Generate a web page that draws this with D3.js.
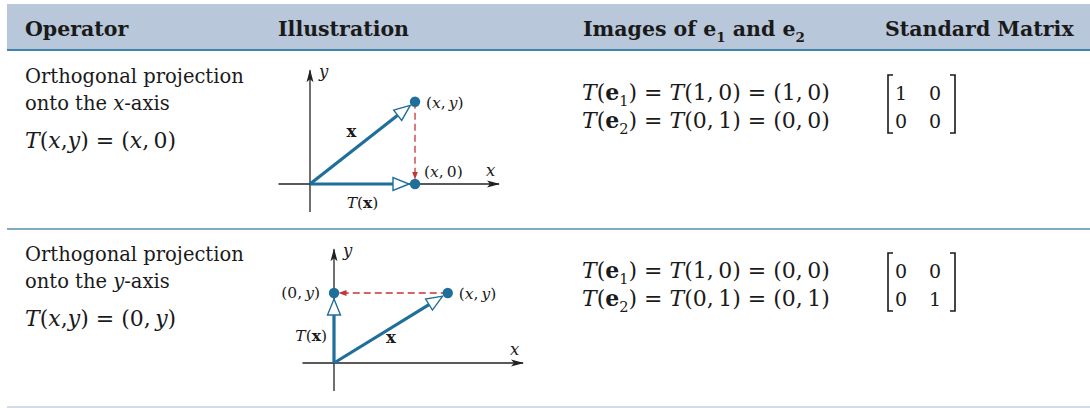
<!DOCTYPE html>
<html>
<head>
<meta charset="utf-8">
<script src="https://cdn.jsdelivr.net/npm/d3@7"></script>
<style>
  body { margin: 0; background: #fff; }
  text { font-family: "DejaVu Serif", serif; fill: #1a1a1a; }
</style>
</head>
<body>
<script>
const width = 1090;
const height = 408;

// table content  (style flags: i = italic, b = bold, s = subscript)
const headers = [
  [["Operator", "b"]],
  [["Illustration", "b"]],
  [["Images of ", "b"], ["e", "b"], ["1", "bs"], [" and ", "b"], ["e", "b"], ["2", "bs"]],
  [["Standard Matrix", "b"]]
];
const operatorLines = [
  [[["Orthogonal projection", ""]], [["onto the ", ""], ["x", "i"], ["-axis", ""]]],
  [[["Orthogonal projection", ""]], [["onto the ", ""], ["y", "i"], ["-axis", ""]]]
];
const operatorFormulas = [
  [["T", "i"], ["(", ""], ["x", "i"], [",", ""], ["y", "i"], [") = (", ""], ["x", "i"], [",\u20090)", ""]],
  [["T", "i"], ["(", ""], ["x", "i"], [",", ""], ["y", "i"], [") = (0,\u2009", ""], ["y", "i"], [")", ""]]
];
const imageValues = [
  [["1,\u20090", "1,\u20090"], ["0,\u20091", "0,\u20090"]],
  [["1,\u20090", "0,\u20090"], ["0,\u20091", "0,\u20091"]]
];
const matrices = [
  [[1, 0], [0, 0]],
  [[0, 0], [0, 1]]
];

// illustration vectors (math units)
const vectors = [[3, 2.35], [3.25, 2]];
const projections = [[3, 0], [0, 2]];
const axisX = [-0.9, 5.4];
const axisY = [-0.8, 3.25];

const blue = "#1f6f9a";
const red = "#c0363c";

const svg = d3.select("body").append("svg")
  .attr("width", width).attr("height", height);

const defs = svg.append("defs");
defs.append("marker").attr("id", "axisHead")
  .attr("viewBox", "0 0 13 8").attr("refX", 12).attr("refY", 4)
  .attr("markerWidth", 13).attr("markerHeight", 8)
  .attr("markerUnits", "userSpaceOnUse").attr("orient", "auto")
  .append("path").attr("d", "M0,0.5 L13,4 L0,7.5 L3,4 Z").attr("fill", "#222");
defs.append("marker").attr("id", "redHead")
  .attr("viewBox", "0 0 8 8").attr("refX", 7.5).attr("refY", 4)
  .attr("markerWidth", 8).attr("markerHeight", 8)
  .attr("markerUnits", "userSpaceOnUse").attr("orient", "auto")
  .append("path").attr("d", "M0,1 L8,4 L0,7 Z").attr("fill", red);

function rich(g, segs, x, y, size, anchor) {
  const t = g.append("text").attr("x", x).attr("y", y).attr("font-size", size)
    .attr("text-anchor", anchor || "start");
  let shift = 0;
  segs.forEach(([s, st]) => {
    const ts = t.append("tspan").text(s);
    if (st.includes("i")) ts.attr("font-style", "italic");
    if (st.includes("b")) ts.attr("font-weight", "bold");
    const target = st.includes("s") ? size * 0.28 : 0;
    if (target !== shift) { ts.attr("dy", target - shift); shift = target; }
    if (st.includes("s")) ts.attr("font-size", size * 0.66);
  });
  return t;
}

// header band
svg.append("rect").attr("x", 7).attr("y", 4).attr("width", width - 7).attr("height", 46)
  .attr("fill", "#b8c7d9");
svg.append("line").attr("x1", 7).attr("x2", width).attr("y1", 50).attr("y2", 50)
  .attr("stroke", "#3f84ad").attr("stroke-width", 2);

const colX = [25, 278, 583, 885];
headers.forEach((h, i) => rich(svg, h, colX[i], 36, 20.5));

// row separators
const rowTop = [51, 229];
svg.append("line").attr("x1", 7).attr("x2", width).attr("y1", 229).attr("y2", 229)
  .attr("stroke", "#5890b3").attr("stroke-width", 1.5);
svg.append("line").attr("x1", 7).attr("x2", width).attr("y1", 407).attr("y2", 407)
  .attr("stroke", "#a9b8cb").attr("stroke-width", 1);

const origins = [[310, 184], [334, 363]];
const unit = 35;

function openArrow(g, p0, p1) {
  const dx = p1[0] - p0[0], dy = p1[1] - p0[1];
  const len = Math.hypot(dx, dy), ux = dx / len, uy = dy / len;
  const tip = [p1[0] - ux * 6, p1[1] - uy * 6];
  const L = 16, hw = 6.5;
  const base = [tip[0] - ux * L, tip[1] - uy * L];
  g.append("line").attr("x1", p0[0]).attr("y1", p0[1])
    .attr("x2", base[0]).attr("y2", base[1])
    .attr("stroke", blue).attr("stroke-width", 3.2);
  g.append("path")
    .attr("d", d3.line()([
      tip,
      [base[0] - uy * hw, base[1] + ux * hw],
      [base[0] + uy * hw, base[1] - ux * hw]
    ]) + "Z")
    .attr("fill", "#fff").attr("stroke", blue).attr("stroke-width", 1.4)
    .attr("stroke-linejoin", "miter");
}

vectors.forEach((v, r) => {
  const [ox, oy] = origins[r];
  const x = d3.scaleLinear().domain([0, 1]).range([ox, ox + unit]);
  const y = d3.scaleLinear().domain([0, 1]).range([oy, oy - unit]);
  const g = svg.append("g");

  // axes
  g.append("line").attr("x1", x(axisX[0])).attr("x2", x(axisX[1]))
    .attr("y1", y(0)).attr("y2", y(0))
    .attr("stroke", "#222").attr("stroke-width", 1.3).attr("marker-end", "url(#axisHead)");
  g.append("line").attr("x1", x(0)).attr("x2", x(0))
    .attr("y1", y(axisY[0])).attr("y2", y(axisY[1]))
    .attr("stroke", "#222").attr("stroke-width", 1.3).attr("marker-end", "url(#axisHead)");

  const p = projections[r];
  const P = [x(v[0]), y(v[1])];
  const Q = [x(p[0]), y(p[1])];
  const O = [x(0), y(0)];

  // dashed projection line
  const dx = Q[0] - P[0], dy = Q[1] - P[1];
  const len = Math.hypot(dx, dy);
  g.append("line").attr("x1", P[0]).attr("y1", P[1])
    .attr("x2", Q[0] - dx / len * 5).attr("y2", Q[1] - dy / len * 5)
    .attr("stroke", red).attr("stroke-width", 1.3).attr("stroke-dasharray", "7,4")
    .attr("marker-end", "url(#redHead)");

  openArrow(g, O, P);
  openArrow(g, O, Q);

  g.selectAll("circle.pt").data([P, Q]).join("circle")
    .attr("cx", d => d[0]).attr("cy", d => d[1]).attr("r", 5.2).attr("fill", blue);

  const s = 15.5;
  rich(g, [["y", "i"]], x(0) + 9, y(axisY[1]) + 7, s + 1);
  rich(g, [["x", "i"]], x(axisX[1]) - 13, y(0) - 8, s + 1);
  rich(g, [["(", ""], ["x", "i"], [",\u2009", ""], ["y", "i"], [")", ""]], P[0] + 11, P[1] + 6, s);
  rich(g, [["x", "b"]], (O[0] + P[0]) / 2 + (r === 0 ? -11 : 0), (O[1] + P[1]) / 2 + (r === 0 ? -6 : 15), s + 1, "middle");
  if (r === 0) {
    rich(g, [["(", ""], ["x", "i"], [",\u20090)", ""]], Q[0] + 9, Q[1] - 7, s);
    rich(g, [["T", "i"], ["(", ""], ["x", "b"], [")", ""]], (O[0] + Q[0]) / 2, Q[1] + 24, s, "middle");
  } else {
    rich(g, [["(0,\u2009", ""], ["y", "i"], [")", ""]], Q[0] - 14, Q[1] + 5, s, "end");
    rich(g, [["T", "i"], ["(", ""], ["x", "b"], [")", ""]], O[0] - 7, (O[1] + Q[1]) / 2 + 13, s, "end");
  }
});

// operator column
operatorLines.forEach((lines, r) => {
  const base = rowTop[r] + 32;
  lines.forEach((l, k) => rich(svg, l, 25, base + k * 27, 19.5));
  rich(svg, operatorFormulas[r], 25, base + 65, 22);
});

// images column
imageValues.forEach((rows, r) => {
  const base = rowTop[r] + 49;
  rows.forEach(([arg, res], k) => {
    rich(svg, [["T", "i"], ["(", ""], ["e", "b"], [String(k + 1), "s"],
      [") = ", ""], ["T", "i"], ["(" + arg + ") = (" + res + ")", ""]],
      582, base + k * 28, 22);
  });
});

// matrix column
matrices.forEach((m, r) => {
  const base = rowTop[r] + 49;
  const g = svg.append("g");
  const cx = d3.scaleBand().domain([0, 1]).range([884, 952]);
  m.forEach((row, i) => row.forEach((val, j) => {
    g.append("text").attr("x", cx(j) + cx.bandwidth() / 2).attr("y", base + i * 28)
      .attr("font-size", 19).attr("text-anchor", "middle").text(val);
  }));
  const top = base - 25, bot = base + 33;
  g.append("path").attr("d", `M893,${top} H888 V${bot} H893`)
    .attr("fill", "none").attr("stroke", "#1a1a1a").attr("stroke-width", 1.6);
  g.append("path").attr("d", `M950,${top} H955 V${bot} H950`)
    .attr("fill", "none").attr("stroke", "#1a1a1a").attr("stroke-width", 1.6);
});
</script>
</body>
</html>
